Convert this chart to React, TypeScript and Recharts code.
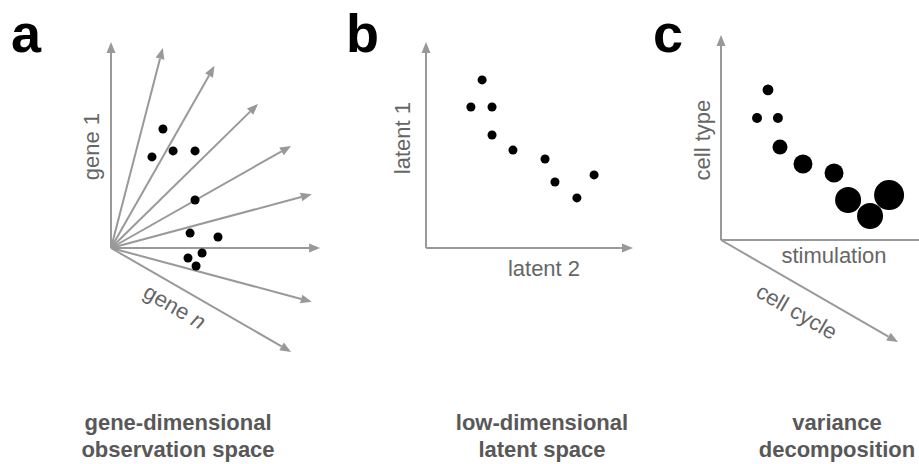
import {
  ReferenceDot,
  ReferenceLine,
  Scatter,
  ScatterChart,
  XAxis,
  YAxis,
  ZAxis,
} from "recharts";

// data, in panel units (each axis arrow is ~10 units long, origin at 0,0)
const geneAxisTips = [
  { x: 0, y: 9.95 },
  { x: 2.5, y: 9.66 },
  { x: 5.0, y: 8.8 },
  { x: 7.1, y: 6.96 },
  { x: 8.7, y: 4.93 },
  { x: 9.7, y: 2.6 },
  { x: 10.1, y: 0 },
  { x: 9.7, y: -2.6 },
  { x: 8.7, y: -5.02 },
];
const observedCells = [
  { x: 2.51, y: 5.75 },
  { x: 1.98, y: 4.4 },
  { x: 3.0, y: 4.69 },
  { x: 4.06, y: 4.69 },
  { x: 4.06, y: 2.32 },
  { x: 3.82, y: 0.72 },
  { x: 5.17, y: 0.53 },
  { x: 4.4, y: -0.24 },
  { x: 3.72, y: -0.48 },
  { x: 4.11, y: -0.87 },
];
const latentAxisTips = [
  { x: 0, y: 9.95 },
  { x: 10, y: 0 },
];
const latentCells = [
  { x: 2.71, y: 8.12 },
  { x: 2.17, y: 6.81 },
  { x: 3.19, y: 6.81 },
  { x: 3.19, y: 5.46 },
  { x: 4.2, y: 4.73 },
  { x: 5.75, y: 4.3 },
  { x: 6.23, y: 3.19 },
  { x: 7.29, y: 2.42 },
  { x: 8.12, y: 3.53 },
];
const factorAxisTips = [
  { x: 0, y: 9.9 },
  { x: 10.2, y: 0 },
  { x: 8.55, y: -4.93 },
];
// x = stimulation, y = cell type, cycle = depth (drawn as dot size)
const decomposedCells = [
  { x: 2.27, y: 7.25, cycle: 1.3 },
  { x: 1.74, y: 5.89, cycle: 1.1 },
  { x: 2.75, y: 5.89, cycle: 1.1 },
  { x: 2.85, y: 4.49, cycle: 2.5 },
  { x: 3.96, y: 3.67, cycle: 4 },
  { x: 5.46, y: 3.24, cycle: 4 },
  { x: 6.14, y: 1.93, cycle: 7.5 },
  { x: 7.2, y: 1.16, cycle: 7.5 },
  { x: 8.12, y: 2.17, cycle: 10 },
];
const panelLetters = ["a", "b", "c"];
const captions = [
  ["gene-dimensional", "observation space"],
  ["low-dimensional", "latent space"],
  ["variance", "decomposition"],
];

// layout
const W = 919;
const H = 464;
const UNIT = 20.7; // px per panel unit
const origins: Record<string, [number, number]> = {
  a: [111, 248],
  b: [426, 248],
  c: [721, 240],
};
const letterX = [11, 346, 653];
const captionX = [178, 542, 837];
const axisLabels = [
  { panel: "a", text: "gene 1", italic: "", x: -0.58, y: 4.9, angle: -90 },
  { panel: "a", text: "gene ", italic: "n", x: 2.9, y: -3.15, angle: 30 },
  { panel: "b", text: "latent 1", italic: "", x: -0.77, y: 5.31, angle: -90 },
  { panel: "b", text: "latent 2", italic: "", x: 5.7, y: -1.35, angle: 0 },
  { panel: "c", text: "cell type", italic: "", x: -0.53, y: 4.83, angle: -90 },
  { panel: "c", text: "stimulation", italic: "", x: 5.46, y: -1.11, angle: 0 },
  { panel: "c", text: "cell cycle", italic: "", x: 3.48, y: -3.77, angle: 30 },
];

const GREY = "#999999";
const LABEL = "#666666";
const FONT = "'Liberation Sans', Arial, Helvetica, sans-serif";

const xDomain = (p: string) => [-origins[p][0] / UNIT, (W - origins[p][0]) / UNIT];
const yDomain = (p: string) => [-(H - origins[p][1]) / UNIT, origins[p][1] / UNIT];

function Arrow(props: any) {
  const { x1, y1, x2, y2 } = props;
  const a = Math.atan2(y2 - y1, x2 - x1);
  const len = 11;
  const half = 4.5;
  const bx = x2 - len * Math.cos(a);
  const by = y2 - len * Math.sin(a);
  const s = Math.sin(a);
  const c = Math.cos(a);
  return (
    <g>
      <line x1={x1} y1={y1} x2={bx} y2={by} stroke={GREY} strokeWidth={2} />
      <polygon
        points={`${x2},${y2} ${bx - half * s},${by + half * c} ${bx + half * s},${by - half * c}`}
        fill={GREY}
      />
    </g>
  );
}

const labelShape = (text: string, italic: string, angle: number) => (p: any) => (
  <text
    x={p.cx}
    y={p.cy}
    transform={`rotate(${angle}, ${p.cx}, ${p.cy})`}
    textAnchor="middle"
    fontFamily={FONT}
    fontSize={22}
    fill={LABEL}
  >
    {text}
    {italic && <tspan fontStyle="italic">{italic}</tspan>}
  </text>
);

const arrowsFor = (p: string, tips: { x: number; y: number }[]) =>
  tips.map((t, i) => (
    <ReferenceLine
      key={`${p}-arr-${i}`}
      xAxisId={p}
      yAxisId={p}
      segment={[
        { x: 0, y: 0 },
        { x: t.x, y: t.y },
      ]}
      ifOverflow="visible"
      shape={Arrow}
    />
  ));

export default function App() {
  return (
    <div
      style={{
        position: "absolute",
        left: 0,
        top: 0,
        width: W,
        height: H,
        background: "#fff",
      }}
    >
      <ScatterChart width={W} height={H} margin={{ top: 0, right: 0, bottom: 0, left: 0 }}>
        {["a", "b", "c"].map((p) => (
          <XAxis
            key={`x-${p}`}
            xAxisId={p}
            type="number"
            dataKey="x"
            domain={xDomain(p)}
            allowDataOverflow
            hide
          />
        ))}
        {["a", "b", "c"].map((p) => (
          <YAxis
            key={`y-${p}`}
            yAxisId={p}
            type="number"
            dataKey="y"
            domain={yDomain(p)}
            allowDataOverflow
            hide
          />
        ))}
        <ZAxis zAxisId="fixed" range={[105, 105]} />
        <ZAxis zAxisId="c" type="number" dataKey="cycle" domain={[0, 10]} range={[0, 707]} />

        {arrowsFor("a", geneAxisTips)}
        {arrowsFor("b", latentAxisTips)}
        {arrowsFor("c", factorAxisTips)}

        <Scatter
          data={observedCells}
          xAxisId="a"
          yAxisId="a"
          zAxisId="fixed"
          fill="#000"
          isAnimationActive={false}
        />
        <Scatter
          data={latentCells}
          xAxisId="b"
          yAxisId="b"
          zAxisId="fixed"
          fill="#000"
          isAnimationActive={false}
        />
        <Scatter
          data={decomposedCells}
          xAxisId="c"
          yAxisId="c"
          zAxisId="c"
          fill="#000"
          isAnimationActive={false}
        />

        {axisLabels.map((l) => (
          <ReferenceDot
            key={l.text}
            xAxisId={l.panel}
            yAxisId={l.panel}
            x={l.x}
            y={l.y}
            ifOverflow="visible"
            shape={labelShape(l.text, l.italic, l.angle)}
          />
        ))}

        {panelLetters.map((t, i) => (
          <text
            key={t}
            x={letterX[i]}
            y={52}
            fontFamily={FONT}
            fontWeight="bold"
            fontSize={54}
            fill="#000"
          >
            {t}
          </text>
        ))}
        {captions.map((lines, i) => (
          <text
            key={lines[0]}
            textAnchor="middle"
            fontFamily={FONT}
            fontWeight="bold"
            fontSize={22}
            fill="#585858"
          >
            <tspan x={captionX[i]} y={430}>
              {lines[0]}
            </tspan>
            <tspan x={captionX[i]} y={457}>
              {lines[1]}
            </tspan>
          </text>
        ))}
      </ScatterChart>
    </div>
  );
}
